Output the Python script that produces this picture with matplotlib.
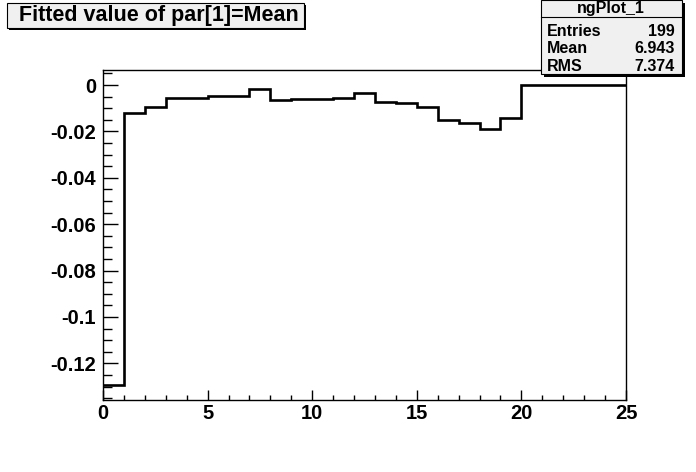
import matplotlib.pyplot as plt
from matplotlib.patches import Rectangle
from matplotlib.ticker import MultipleLocator
import numpy as np

# bin edges and contents
edges = np.arange(0, 26, 1)
values = [-0.1292, -0.0122, -0.0094, -0.0055, -0.0055, -0.0046, -0.0046,
          -0.0019, -0.0065, -0.0060, -0.0060, -0.0055, -0.0036, -0.0072,
          -0.0076, -0.0095, -0.0151, -0.0163, -0.0189, -0.0141,
          0.0, 0.0, 0.0, 0.0, 0.0]

title = "Fitted value of par[1]=Mean"
stats_name = "ngPlot_1"
stats_labels = ["Entries", "Mean", "RMS"]
stats_values = ["199", "6.943", "7.374"]

plt.rcParams['font.family'] = ['Liberation Sans', 'DejaVu Sans']
plt.rcParams['font.weight'] = 'bold'

W, H = 696, 472
fig = plt.figure(figsize=(W / 100, H / 100), dpi=100)
fig.patch.set_facecolor('white')

def fx(px):
    return px / W

def fy(py):
    return 1 - py / H

# frame
ax = fig.add_axes([fx(103), fy(400), fx(626) - fx(103), fy(70) - fy(400)])
ax.stairs(values, edges, baseline=None, color='black', linewidth=1.9)

ax.set_xlim(0, 25)
ax.set_ylim(-0.1358, 0.0065)
ax.xaxis.set_major_locator(MultipleLocator(5))
ax.xaxis.set_minor_locator(MultipleLocator(1))
ax.yaxis.set_major_locator(MultipleLocator(0.02))
ax.yaxis.set_minor_locator(MultipleLocator(0.005))
ax.yaxis.set_major_formatter(plt.FuncFormatter(lambda v, p: "0" if abs(v) < 1e-9 else ("%g" % round(v, 3))))

ax.tick_params(axis='both', which='both', direction='in', labelsize=14.5)
ax.tick_params(axis='x', which='major', length=7, width=1, pad=3)
ax.tick_params(axis='x', which='minor', length=3.6, width=1)
ax.tick_params(axis='y', which='major', length=10.8, width=1, pad=5)
ax.tick_params(axis='y', which='minor', length=6.3, width=1)
for lab in ax.get_xticklabels() + ax.get_yticklabels():
    lab.set_fontweight('bold')
for s in ax.spines.values():
    s.set_linewidth(1)

box_fc = '#f0f0f0'

# title box with shadow
fig.patches.append(Rectangle((fx(9), fy(30)), fx(304) - fx(7), fy(3) - fy(28),
                             transform=fig.transFigure, facecolor='black',
                             edgecolor='black', linewidth=0, zorder=5))
fig.patches.append(Rectangle((fx(7), fy(28)), fx(304) - fx(7), fy(3) - fy(28),
                             transform=fig.transFigure, facecolor=box_fc,
                             edgecolor='black', linewidth=0.8, zorder=6))
fig.text(fx(159), fy(21), title, ha='center', va='baseline', fontsize=15.5,
         fontweight='bold', zorder=7)

# stats box with shadow
fig.patches.append(Rectangle((fx(544), fy(77)), fx(682) - fx(541), fy(0) - fy(74),
                             transform=fig.transFigure, facecolor='black',
                             edgecolor='black', linewidth=0, zorder=5))
fig.patches.append(Rectangle((fx(541), fy(74)), fx(682) - fx(541), fy(0) - fy(74),
                             transform=fig.transFigure, facecolor=box_fc,
                             edgecolor='black', linewidth=0.8, zorder=6))
fig.add_artist(plt.Line2D([fx(541), fx(682)], [fy(17), fy(17)],
                          transform=fig.transFigure, color='black',
                          linewidth=0.8, zorder=7))
fig.text(fx(611), fy(13.5), stats_name, ha='center', va='baseline', fontsize=11.5,
         fontweight='bold', zorder=7)
for i, (lab, val) in enumerate(zip(stats_labels, stats_values)):
    yy = fy(36 + i * 17.4)
    fig.text(fx(547), yy, lab, ha='left', va='baseline', fontsize=11.5,
             fontweight='bold', zorder=7)
    fig.text(fx(675), yy, val, ha='right', va='baseline', fontsize=11.5,
             fontweight='bold', zorder=7)

fig.savefig('out.png', dpi=100)
